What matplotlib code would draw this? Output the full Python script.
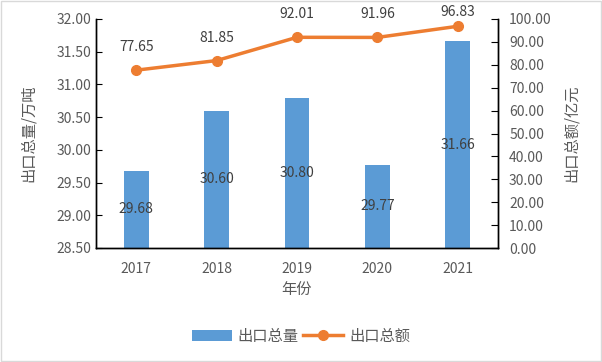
import matplotlib.pyplot as plt
from matplotlib.patches import Rectangle

plt.rcParams['font.family'] = ['Noto Sans CJK SC', 'DejaVu Sans']

years = ['2017', '2018', '2019', '2020', '2021']
volume = [29.68, 30.60, 30.80, 29.77, 31.66]   # 出口总量 万吨
value = [77.65, 81.85, 92.01, 91.96, 96.83]    # 出口总额 亿元

txt = '#595959'
x = range(len(years))

fig = plt.figure(figsize=(6.02, 3.62), dpi=100)
ax = fig.add_axes([96 / 602, (362 - 248) / 362, 402 / 602, 229 / 362])
ax2 = ax.twinx()

bars = ax.bar(x, volume, width=0.31, color='#5B9BD5', zorder=2, label='出口总量')
ax.set_ylim(28.5, 32.0)
ax.set_xlim(-0.5, 4.5)
ax.set_yticks([28.5 + 0.5 * i for i in range(8)])
ax.set_yticklabels(['%.2f' % (28.5 + 0.5 * i) for i in range(8)])
ax.set_xticks(list(x))
ax.set_xticklabels(years)
for i, v in enumerate(volume):
    ax.text(i, (28.5 + v) / 2, '%.2f' % v, ha='center', va='center', fontsize=10, color='#404040', zorder=5)

line, = ax2.plot(x, value, color='#ED7D31', lw=2.5, marker='o', ms=7, label='出口总额', zorder=3)
ax2.set_ylim(0, 100)
ax2.set_yticks(range(0, 101, 10))
ax2.set_yticklabels(['%.2f' % t for t in range(0, 101, 10)])
# labels above points, kept inside the chart area like excel does
for i, v in enumerate(value):
    py = 248 - v / 100 * 229
    yc = max(py - 23, 12)
    ax2.text(i, (248 - yc) / 229 * 100, '%.2f' % v, ha='center', va='center',
             fontsize=10, color='#404040', clip_on=False)

ax.spines['top'].set_visible(False)
ax2.spines['top'].set_visible(False)
for a in (ax, ax2):
    for s in ('left', 'right', 'bottom'):
        a.spines[s].set_color('black')
        a.spines[s].set_linewidth(1.0)
ax.tick_params(axis='y', direction='in', length=4, colors='black', labelcolor=txt, labelsize=10)
ax.tick_params(axis='x', length=0, labelcolor=txt, labelsize=10, pad=10)
ax2.tick_params(axis='y', direction='in', length=5, colors='black', labelcolor=txt, labelsize=10, pad=8)

ax.set_xlabel('年份', fontsize=11, color=txt, labelpad=4)
ax.set_ylabel('出口总量/万吨', fontsize=11, color=txt, labelpad=14)
ax2.set_ylabel('出口总额/亿元', fontsize=11, color=txt, labelpad=8)

fig.legend([bars, line], ['出口总量', '出口总额'], loc='center', bbox_to_anchor=(0.5, 1 - 336 / 362),
           ncol=2, frameon=False, fontsize=11, labelcolor=txt, handlelength=2.6,
           columnspacing=0.3, handletextpad=0.4)

fig.patches.append(Rectangle((0.002, 0.003), 0.996, 0.994, transform=fig.transFigure,
                             fill=False, edgecolor='#d9d9d9', lw=1))

fig.savefig('out.png', dpi=100)
